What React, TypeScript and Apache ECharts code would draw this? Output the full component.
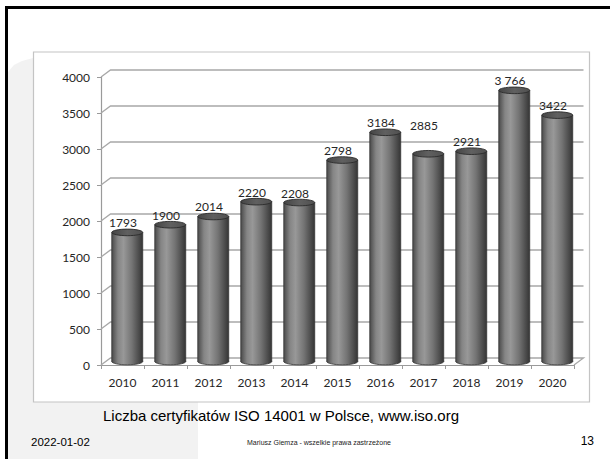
import React, { useEffect, useRef } from "react";
import * as echarts from "echarts";

const years = ["2010", "2011", "2012", "2013", "2014", "2015", "2016", "2017", "2018", "2019", "2020"];
const counts = [1793, 1900, 2014, 2220, 2208, 2798, 3184, 2885, 2921, 3766, 3422];
const countLabels = ["1793", "1900", "2014", "2220", "2208", "2798", "3184", "2885", "2921", "3 766", "3422"];
const yTicks = [0, 500, 1000, 1500, 2000, 2500, 3000, 3500, 4000];

const caption = "Liczba certyfikatów ISO 14001 w Polsce, www.iso.org";
const footerDate = "2022-01-02";
const footerCopy = "Mariusz Giemza - wszelkie prawa zastrzeżone";
const pageNo = "13";

// 3D depth offsets (style)
const DX = 9.5;
const DY = 7;
const labelLiftExtra: Record<string, number> = { "2017": 19 };

export default function App() {
  const ref = useRef<HTMLDivElement>(null);
  useEffect(() => {
    if (!ref.current) return;
    const chart = echarts.init(ref.current, null, { renderer: "svg" });
    const bodyGrad = () =>
      new echarts.graphic.LinearGradient(0, 0, 1, 0, [
        { offset: 0, color: "#4a4a4a" },
        { offset: 0.2, color: "#858585" },
        { offset: 0.38, color: "#989898" },
        { offset: 0.65, color: "#747474" },
        { offset: 0.9, color: "#474747" },
        { offset: 1, color: "#353535" },
      ]);
    const option: any = {
      animation: false,
      backgroundColor: "#ffffff",
      grid: { left: 101, top: 77, width: 473, height: 288, containLabel: false },
      xAxis: {
        type: "category",
        data: years,
        boundaryGap: true,
        axisLine: { show: true, lineStyle: { color: "#9a9a9a", width: 1.2 } },
        axisTick: { show: true, length: 4, lineStyle: { color: "#9a9a9a" } },
        axisLabel: { color: "#262626", fontFamily: "Lato", fontSize: 12, margin: 11 },
        splitLine: { show: false },
      },
      yAxis: {
        type: "value",
        min: 0,
        max: 4000,
        interval: 500,
        axisLine: { show: true, lineStyle: { color: "#9a9a9a", width: 1.2 } },
        axisTick: { show: true, length: 4, lineStyle: { color: "#9a9a9a" } },
        axisLabel: {
          color: "#262626",
          fontFamily: "Lato",
          fontSize: 12,
          margin: 11,
          formatter: (v: number) => String(v),
        },
        splitLine: { show: false },
      },
      graphic: [
        {
          type: "polygon",
          z: -10,
          shape: { points: [[8, 72], [14, 65], [22, 61], [33, 58], [198, 58], [198, 459], [8, 459]] },
          style: { fill: "#f2f2f2" },
        },
        {
          type: "rect",
          z: -9,
          shape: { x: 33.5, y: 52, width: 556, height: 350 },
          style: { fill: "#ffffff", stroke: "#c4c4c4", lineWidth: 1.2 },
        },
        { type: "rect", z: 10, shape: { x: 5, y: 6, width: 605, height: 3 }, style: { fill: "#000" } },
        { type: "rect", z: 10, shape: { x: 5, y: 6, width: 3, height: 453 }, style: { fill: "#000" } },
        {
          type: "text",
          z: 10,
          x: 103,
          y: 415,
          style: { text: caption, fontFamily: "Liberation Sans", fontSize: 15, fill: "#000", textAlign: "left", textVerticalAlign: "middle" },
        },
        {
          type: "text",
          z: 10,
          x: 31,
          y: 442,
          style: { text: footerDate, fontFamily: "Liberation Sans", fontSize: 11.5, fill: "#000", textAlign: "left", textVerticalAlign: "middle" },
        },
        {
          type: "text",
          z: 10,
          x: 319,
          y: 442,
          style: { text: footerCopy, fontFamily: "Liberation Sans", fontSize: 7, fill: "#222", textAlign: "center", textVerticalAlign: "middle" },
        },
        {
          type: "text",
          z: 10,
          x: 594,
          y: 441,
          style: { text: pageNo, fontFamily: "Liberation Sans", fontSize: 12, fill: "#000", textAlign: "right", textVerticalAlign: "middle" },
        },
      ],
      series: [
        {
          type: "custom",
          z: 1,
          data: yTicks.map((v) => [0, v]),
          encode: { x: 0, y: 1 },
          renderItem: (params: any, api: any) => {
            const cs = params.coordSys;
            const v = api.value(1);
            const y = api.coord([0, v])[1];
            const x0 = cs.x;
            const x1 = cs.x + cs.width;
            const pts =
              v === 0
                ? [[x0, y], [x0 + DX, y - DY], [x1 + DX, y - DY], [x1, y]]
                : [[x0, y], [x0 + DX, y - DY], [x1 + DX, y - DY]];
            return {
              type: "polyline",
              shape: { points: pts },
              style: { stroke: "#a8a8a8", lineWidth: 1.3, fill: null },
              silent: true,
            };
          },
        },
        {
          type: "custom",
          z: 3,
          data: counts.map((c, i) => [i, c]),
          encode: { x: 0, y: 1 },
          renderItem: (params: any, api: any) => {
            const i = api.value(0);
            const v = api.value(1);
            const top = api.coord([i, v]);
            const base = api.coord([i, 0]);
            const band = api.size([1, 0])[0];
            const w = band * 0.72;
            const cx = top[0] + DX / 2;
            const topY = top[1] - DY / 2;
            const botY = base[1] - DY / 2;
            const ry = 3.3;
            const lift = 9.5 + (labelLiftExtra[years[i]] || 0);
            return {
              type: "group",
              children: [
                {
                  type: "ellipse",
                  shape: { cx, cy: botY, rx: w / 2, ry },
                  style: { fill: bodyGrad(), stroke: "#333", lineWidth: 0.8 },
                },
                {
                  type: "rect",
                  shape: { x: cx - w / 2, y: topY, width: w, height: botY - topY },
                  style: { fill: bodyGrad(), stroke: null },
                },
                {
                  type: "line",
                  shape: { x1: cx - w / 2, y1: topY, x2: cx - w / 2, y2: botY },
                  style: { stroke: "#333", lineWidth: 0.8 },
                },
                {
                  type: "line",
                  shape: { x1: cx + w / 2, y1: topY, x2: cx + w / 2, y2: botY },
                  style: { stroke: "#333", lineWidth: 0.8 },
                },
                {
                  type: "ellipse",
                  shape: { cx, cy: topY, rx: w / 2, ry },
                  style: {
                    fill: new echarts.graphic.LinearGradient(0, 0, 1, 0, [
                      { offset: 0, color: "#454545" },
                      { offset: 0.5, color: "#606060" },
                      { offset: 1, color: "#505050" },
                    ]),
                    stroke: "#2a2a2a",
                    lineWidth: 0.9,
                  },
                },
                {
                  type: "text",
                  x: top[0] + 0.5,
                  y: topY - lift,
                  style: {
                    text: countLabels[i],
                    fontFamily: "Lato",
                    fontSize: 12,
                    fill: "#262626",
                    textAlign: "center",
                    textVerticalAlign: "middle",
                  },
                },
              ],
            };
          },
        },
      ],
    };
    chart.setOption(option);
    return () => chart.dispose();
  }, []);
  return (
    <div
      ref={ref}
      style={{ position: "absolute", left: 0, top: 0, width: 610, height: 459, background: "#fff" }}
    />
  );
}
